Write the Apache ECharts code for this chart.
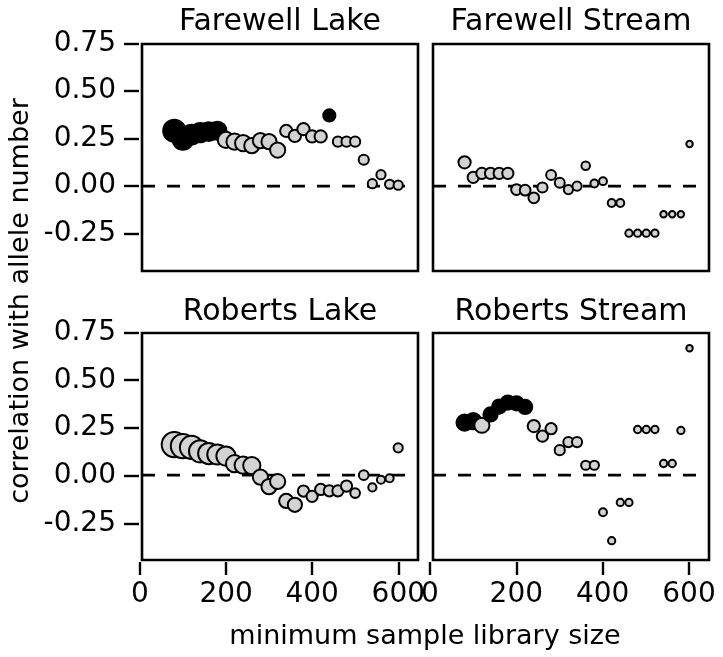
<!DOCTYPE html>
<html>
<head>
<meta charset="utf-8">
<script src="https://cdn.jsdelivr.net/npm/echarts@6/dist/echarts.min.js"></script>
<style>
html,body{margin:0;padding:0;background:#fff;}
#chart{width:723px;height:657px;}
</style>
</head>
<body>
<div id="chart"></div>
<script>
// ---------------- data ----------------
const minLib = [80,100,120,140,160,180,200,220,240,260,280,300,320,340,360,380,400,420,440,460,480,500,520,540,560,580,600];

const panelTitles = ["Farewell Lake", "Farewell Stream", "Roberts Lake", "Roberts Stream"];
const yTicks = [-0.25, 0, 0.25, 0.5, 0.75];
const xTicks = [0, 200, 400, 600];
const xTitle = "minimum sample library size";
const yTitle = "correlation with allele number";

// correlation values
const rFL = [0.29,0.245,0.27,0.28,0.285,0.29,0.242,0.233,0.225,0.212,0.238,0.233,0.189,0.289,0.263,0.298,0.26,0.26,0.37,0.233,0.233,0.233,0.138,0.013,0.06,0.01,0.005];
const rFS = [0.125,0.046,0.067,0.067,0.067,0.067,-0.018,-0.021,-0.061,-0.007,0.058,0.018,-0.018,0.0,0.107,0.014,0.026,-0.088,-0.088,-0.246,-0.246,-0.246,-0.246,-0.147,-0.147,-0.147,0.221];
const rRL = [0.16,0.152,0.145,0.125,0.113,0.108,0.1,0.06,0.052,0.05,-0.01,-0.06,-0.033,-0.135,-0.155,-0.083,-0.111,-0.075,-0.082,-0.082,-0.057,-0.094,0.0,-0.064,-0.024,-0.016,0.143];
const rRS = [0.275,0.283,0.261,0.318,0.359,0.38,0.376,0.357,0.257,0.204,0.243,0.131,0.173,0.173,0.052,0.052,-0.194,-0.343,-0.143,-0.143,0.239,0.239,0.239,0.061,0.061,0.234,0.664];

// point-size variable (estimated relative sample counts)
const nFL = [21.2,18.5,17,16,15.2,14.4,11.6,11.6,11.6,10.2,10.2,10.2,10.2,6.8,6.8,6.8,6.8,6.8,6.8,4.8,4.8,4.8,4.8,4,4,4,4];
const nFS = [6.8,5.8,5.8,5.8,5.8,5.8,5.3,5.3,5.3,4.8,4.6,4.6,4,4,3.5,3,3,3,3,2.6,2.6,2.6,2.6,2.1,2.1,2.1,2.1];
const nRL = [27,25,23,21.2,19.4,17.6,16,13,13,13,10.2,10.2,10.2,9,9,5.8,5.8,5.8,5.8,5.8,5.8,4.4,4.4,3.2,3.2,3.2,4];
const nRS = [11.6,11.6,10.2,9,9,9,9,9,6.8,5.8,5.8,4.8,4.8,4.8,4,4,3,2.6,2.6,2.6,2.6,2.6,2.6,2.6,2.6,2.6,2.1];

// significance flags (1 = filled black)
const sigFL = [1,1,1,1,1,1,0,0,0,0,0,0,0,0,0,0,0,0,1,0,0,0,0,0,0,0,0];
const sigFS = [0,0,0,0,0,0,0,0,0,0,0,0,0,0,0,0,0,0,0,0,0,0,0,0,0,0,0];
const sigRL = [0,0,0,0,0,0,0,0,0,0,0,0,0,0,0,0,0,0,0,0,0,0,0,0,0,0,0];
const sigRS = [1,1,0,1,1,1,1,1,0,0,0,0,0,0,0,0,0,0,0,0,0,0,0,0,0,0,0];

// ---------------- layout ----------------
const FONT = '"DejaVu Sans", "Liberation Sans", sans-serif';
const panels = [
  {r: rFL, n: nFL, s: sigFL, left: 142, top: 44, xmin: 5, xmax: 646},
  {r: rFS, n: nFS, s: sigFS, left: 433, top: 44, xmin: 7, xmax: 645},
  {r: rRL, n: nRL, s: sigRL, left: 142, top: 333, xmin: 5, xmax: 646},
  {r: rRS, n: nRS, s: sigRS, left: 433, top: 333, xmin: 7, xmax: 645}
];
const PW = 276, PH = 227, YMIN = -0.444, YMAX = 0.744;

const grids = [], xAxes = [], yAxes = [], series = [];

panels.forEach((p, i) => {
  grids.push({left: p.left, top: p.top, width: PW, height: PH, show: true,
    borderColor: '#000', borderWidth: 2.6, backgroundColor: 'transparent', containLabel: false});
  xAxes.push({type: 'value', gridIndex: i, min: p.xmin, max: p.xmax, show: false});
  yAxes.push({type: 'value', gridIndex: i, min: YMIN, max: YMAX, show: false});
  // dashed zero reference line across the panel
  series.push({type: 'line', xAxisIndex: i, yAxisIndex: i, z: 1, silent: true,
    symbol: 'none', data: [[p.xmin, 0], [p.xmax, 0]],
    lineStyle: {color: '#000', width: 2.6, type: [13, 12]}});
  series.push({type: 'scatter', xAxisIndex: i, yAxisIndex: i, z: 3, silent: true,
    data: minLib.map((x, k) => ({
      value: [x, p.r[k]],
      symbolSize: 5 * Math.sqrt(p.n[k]) - 0.8,
      itemStyle: {color: p.s[k] ? '#000' : '#d3d3d3', borderColor: '#000', borderWidth: 2, opacity: 1}
    }))});
});

// tick-only axes (detached, R style)
const tickLabel = {color: '#000', fontFamily: FONT, fontSize: 28};
const tickGrids = [
  {kind: 'y', left: 139, top: 43.3, width: 1, height: 190},
  {kind: 'y', left: 139, top: 332.3, width: 1, height: 191.7},
  {kind: 'x', left: 140, top: 500, width: 258.3, height: 62},
  {kind: 'x', left: 430, top: 500, width: 259, height: 62}
];
tickGrids.forEach((g) => {
  const gi = grids.length;
  grids.push({left: g.left, top: g.top, width: g.width, height: g.height, show: false});
  if (g.kind === 'y') {
    xAxes.push({type: 'value', gridIndex: gi, show: false, min: 0, max: 1});
    yAxes.push({type: 'value', gridIndex: gi, position: 'left', min: yTicks[0], max: yTicks[yTicks.length - 1], interval: 0.25,
      axisLine: {show: false}, splitLine: {show: false},
      axisTick: {show: true, inside: false, length: 15, lineStyle: {color: '#000', width: 2.4}},
      axisLabel: Object.assign({margin: 23, formatter: v => v.toFixed(2)}, tickLabel)});
  } else {
    yAxes.push({type: 'value', gridIndex: gi, show: false, min: 0, max: 1});
    xAxes.push({type: 'value', gridIndex: gi, position: 'bottom', min: xTicks[0], max: xTicks[xTicks.length - 1], interval: 200,
      axisLine: {show: false}, splitLine: {show: false},
      axisTick: {show: true, inside: false, length: 13, lineStyle: {color: '#000', width: 2.4}},
      axisLabel: Object.assign({margin: 19, showMinLabel: true, showMaxLabel: true}, tickLabel)});
  }
});

// texts
const titlePos = [[280, 22], [571, 22], [280, 312], [571, 312]];
const graphics = panelTitles.map((t, i) => ({
  type: 'text', x: titlePos[i][0], y: titlePos[i][1], silent: true,
  style: {text: t, font: '30px ' + FONT, fill: '#000', align: 'center', verticalAlign: 'middle',
    textAlign: 'center', textVerticalAlign: 'middle'}
}));
graphics.push({type: 'text', x: 425, y: 637, silent: true,
  style: {text: xTitle, font: '27px ' + FONT, fill: '#000', align: 'center', verticalAlign: 'middle',
    textAlign: 'center', textVerticalAlign: 'middle'}});
graphics.push({type: 'text', x: 21, y: 301, rotation: Math.PI / 2, silent: true,
  style: {text: yTitle, font: '27px ' + FONT, fill: '#000', align: 'center', verticalAlign: 'middle',
    textAlign: 'center', textVerticalAlign: 'middle'}});

const chart = echarts.init(document.getElementById('chart'), null, {renderer: 'canvas'});
chart.setOption({
  animation: false,
  backgroundColor: '#fff',
  grid: grids,
  xAxis: xAxes,
  yAxis: yAxes,
  series: series,
  graphic: graphics
});
</script>
</body>
</html>
